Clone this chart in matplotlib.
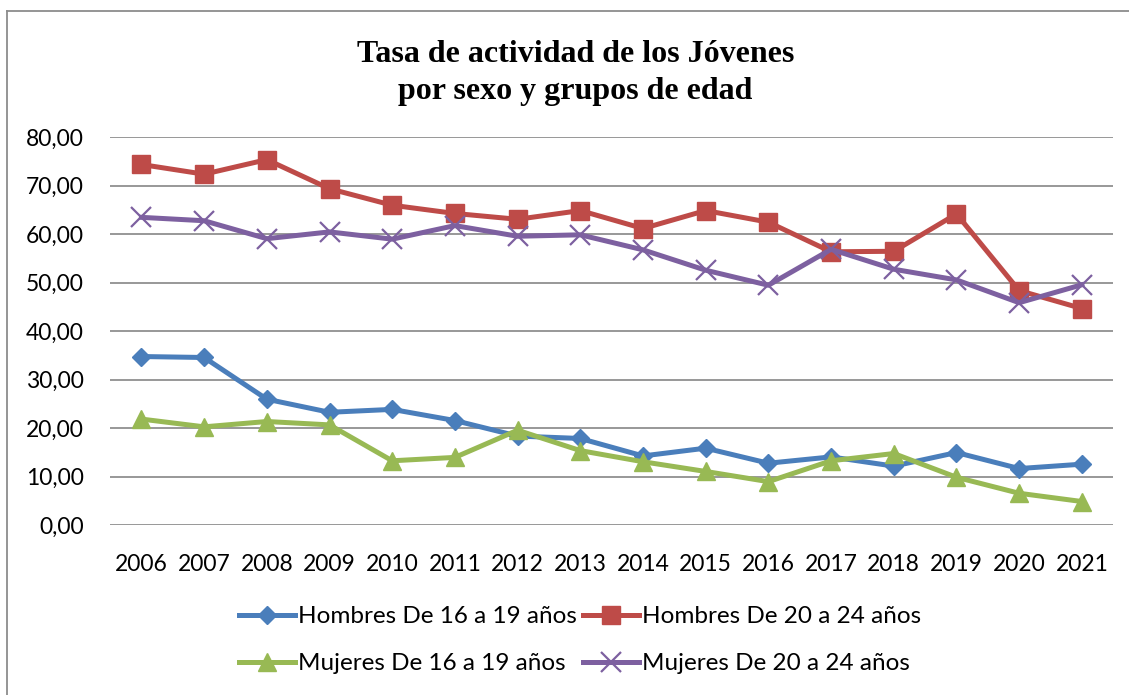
import matplotlib
matplotlib.use('Agg')
import matplotlib.pyplot as plt
from matplotlib.lines import Line2D

# Datos
anios = ['2006', '2007', '2008', '2009', '2010', '2011', '2012', '2013',
         '2014', '2015', '2016', '2017', '2018', '2019', '2020', '2021']
hombres_16_19 = [34.8, 34.6, 26.0, 23.3, 23.9, 21.6, 18.4, 17.9,
                 14.3, 15.9, 12.8, 14.1, 12.2, 15.0, 11.7, 12.6]
hombres_20_24 = [74.4, 72.4, 75.4, 69.4, 66.0, 64.3, 63.1, 64.9,
                 61.2, 64.9, 62.5, 56.4, 56.5, 64.2, 48.4, 44.7]
mujeres_16_19 = [21.9, 20.3, 21.4, 20.7, 13.3, 14.0, 19.6, 15.4,
                 13.1, 11.1, 9.0, 13.3, 14.8, 9.9, 6.6, 4.9]
mujeres_20_24 = [63.5, 62.8, 59.1, 60.5, 59.0, 61.8, 59.6, 59.9,
                 56.8, 52.6, 49.5, 56.9, 52.8, 50.6, 45.9, 49.6]
y_ticks = [0, 10, 20, 30, 40, 50, 60, 70, 80]

plt.rcParams['font.family'] = ['Lato', 'DejaVu Sans']

fig = plt.figure(figsize=(11.29, 6.95), dpi=100)
ax = fig.add_axes([0.0975, 0.2442, 0.8885, 0.5582])

x = list(range(len(anios)))
h1, = ax.plot(x, hombres_16_19, color='#4A7EBB', lw=3.6, marker='D', ms=9, mew=1,
              mec='#4A7EBB', label='Hombres De 16 a 19 años')
h2, = ax.plot(x, hombres_20_24, color='#BE4B48', lw=3.6, marker='s', ms=13.5, mew=1,
              mec='#BE4B48', label='Hombres De 20 a 24 años')
m1, = ax.plot(x, mujeres_16_19, color='#98B954', lw=3.6, marker='^', ms=13.5, mew=1,
              mec='#98B954', label='Mujeres De 16 a 19 años')
m2, = ax.plot(x, mujeres_20_24, color='#7D60A0', lw=3.6, marker='x', ms=14, mew=1.6,
              mec='#7D60A0', label='Mujeres De 20 a 24 años')

ax.set_xlim(-0.5, len(anios) - 0.5)
ax.set_ylim(0, 80)
ax.set_xticks(x)
ax.set_xticklabels(anios, fontsize=16.5)
ax.set_yticks(y_ticks)
ax.set_yticklabels([f'{v:.2f}'.replace('.', ',') for v in y_ticks], fontsize=16.5)
ax.tick_params(axis='x', length=0, pad=21)
ax.tick_params(axis='y', length=0, pad=19)
ax.grid(axis='y', color='#868686', lw=1.2)
ax.set_axisbelow(True)
for s in ax.spines.values():
    s.set_visible(False)

fig.text(0.5097, 1 - 73 / 695, 'Tasa de actividad de los Jóvenes\npor sexo y grupos de edad',
         ha='center', va='center', fontsize=23, fontweight='bold',
         family='Liberation Serif', linespacing=1.37)

# orden por columnas para que las filas queden Hombres / Mujeres
fig.legend(handles=[h1, m1, h2, m2], loc='upper left',
           bbox_to_anchor=(239 / 1129, 1 - 606 / 695), ncol=2,
           frameon=False, fontsize=17.5, handlelength=2.3, handletextpad=0.12,
           columnspacing=0.25, labelspacing=1.08, borderpad=0, borderaxespad=0)

# borde del gráfico
fig.add_artist(Line2D([7 / 1129, 7 / 1129], [0, 1 - 10.5 / 695], transform=fig.transFigure,
                      color='#8C8C8C', lw=1.3))
fig.add_artist(Line2D([7 / 1129, 1], [1 - 10.5 / 695, 1 - 10.5 / 695], transform=fig.transFigure,
                      color='#8C8C8C', lw=1.3))

fig.savefig('out.png', dpi=100)
